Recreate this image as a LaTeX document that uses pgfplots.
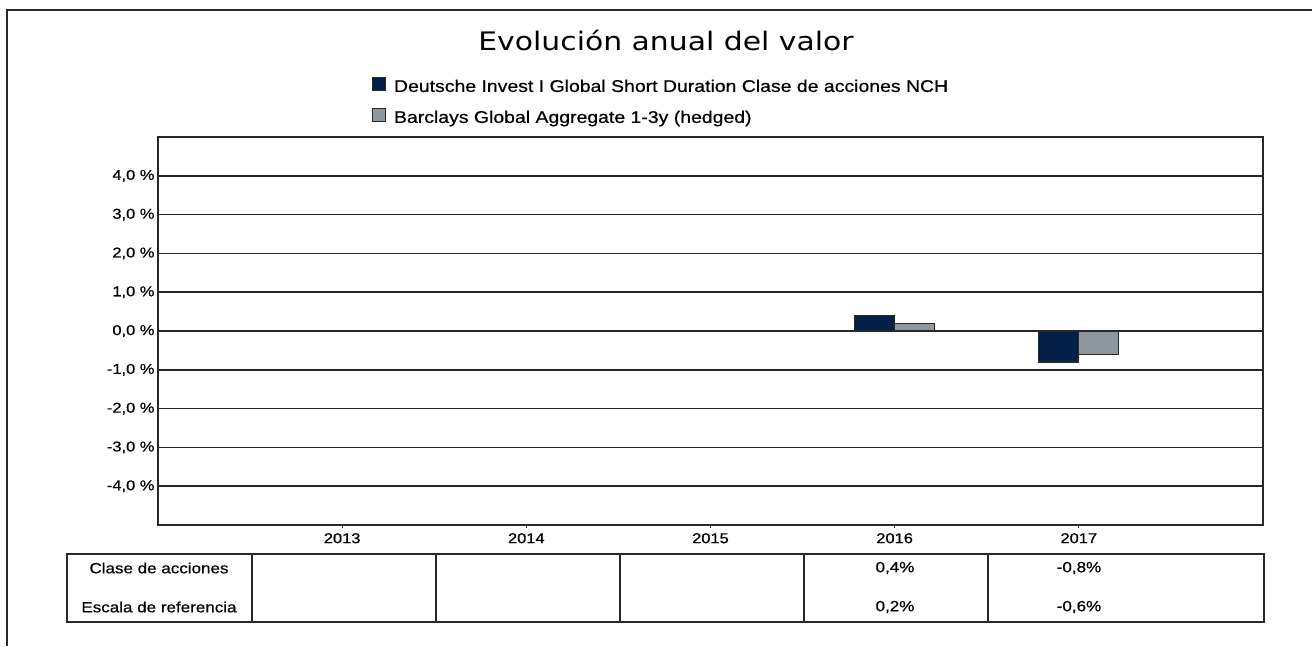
\documentclass[border=0pt]{standalone}
\usepackage{fontspec}
\setmainfont{Liberation Sans}[FakeStretch=1.15, FakeBold=0.6]
\newfontfamily\titlefont{DejaVu Sans}[FakeStretch=1.17]
\usepackage{pgfplots}
\pgfplotsset{compat=1.18}
\definecolor{navy}{RGB}{3,33,72}
\definecolor{bargray}{RGB}{142,151,158}
\definecolor{edge}{RGB}{40,40,40}
\begin{document}
\begin{tikzpicture}
\useasboundingbox (0pt,0pt) rectangle (1312pt,-646pt);
% outer frame (top and left)
\draw[edge, line width=1.4pt] (7pt,-646pt) -- (7pt,-10pt) -- (1312pt,-10pt);
% title
\node[anchor=base, font=\titlefont\fontsize{25.5}{28}\selectfont, inner sep=0pt] at (666pt,-50pt) {Evolución anual del valor};
\begin{axis}[
  at={(158pt,-525pt)}, anchor=south west,
  scale only axis, width=1105pt, height=388pt,
  xmin=-1, xmax=5, ymin=-5, ymax=5,
  xtick={0,1,2,3,4},
  xticklabels={2013,2014,2015,2016,2017},
  ytick={-4,-3,-2,-1,0,1,2,3,4},
  yticklabels={{-4,0 \%},{-3,0 \%},{-2,0 \%},{-1,0 \%},{0,0 \%},{1,0 \%},{2,0 \%},{3,0 \%},{4,0 \%}},
  tick label style={font=\fontsize{14.3}{16}\selectfont},
  xticklabel style={inner sep=0pt, yshift=-5pt},
  xtick pos=bottom, tick align=inside, major tick length=3pt,
  xtick style={edge, line width=1pt},
  ytick style={draw=none},
  ymajorgrids, grid style={black!85, line width=1.6pt},
  axis line style={edge, line width=1.8pt},
  ybar=0pt, bar width=40pt,
  legend style={draw=none, fill=none, inner sep=0pt, outer sep=0pt,
    at={(0.1937,1.1536)}, anchor=north west,
    font=\fontsize{16.9}{18}\selectfont,
    nodes={inner sep=0pt, text height=12pt, text depth=4pt},
    column sep=8pt, row sep=12.5pt},
  legend cell align=left,
  legend image code/.code={\draw[#1, line width=1pt] (0pt,-3pt) rectangle (13pt,10pt);},
]
\addplot[fill=navy, draw=edge, line width=1.2pt] coordinates {(3,0.4) (4,-0.8)};
\addlegendentry{Deutsche Invest I Global Short Duration Clase de acciones NCH}
\addplot[fill=bargray, draw=edge, line width=1.2pt] coordinates {(3,0.2) (4,-0.6)};
\addlegendentry{Barclays Global Aggregate 1-3y (hedged)}
\end{axis}
% table below
\draw[edge, line width=1.5pt] (67pt,-554pt) rectangle (1264pt,-622pt);
\foreach \xx in {252,436,620,804,988} {
  \draw[edge, line width=1.5pt] (\xx pt,-554pt) -- (\xx pt,-622pt);
}
\begin{scope}[every node/.style={font=\fontsize{14.8}{16}\selectfont, inner sep=0pt}]
\node at (159pt,-568pt) {Clase de acciones};
\node at (159pt,-607pt) {Escala de referencia};
\node at (895pt,-568pt) {0,4\%};
\node at (895pt,-607pt) {0,2\%};
\node at (1079pt,-568pt) {-0,8\%};
\node at (1079pt,-607pt) {-0,6\%};
\end{scope}
\end{tikzpicture}
\end{document}
